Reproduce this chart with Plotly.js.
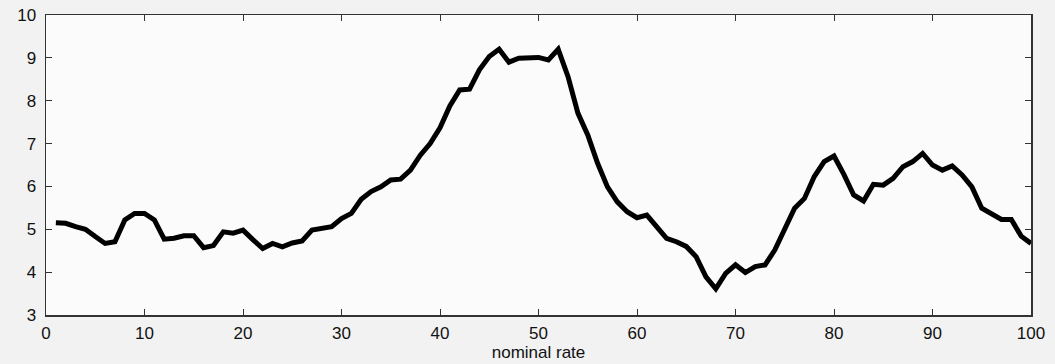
<!DOCTYPE html>
<html>
<head>
<meta charset="utf-8">
<script src="https://cdn.plot.ly/plotly-3.0.1.min.js"></script>
<style>
html,body{margin:0;padding:0;background:#f2f2f2;}
#chart{width:1055px;height:364px;}
</style>
</head>
<body>
<div id="chart"></div>
<script>
const nominalRate = [];
for (let i = 1; i <= 100; i++) nominalRate.push(i);
const values = [
  5.15, 5.14, 5.06, 5.00, 4.83, 4.67, 4.71, 5.22, 5.37, 5.37,
  5.22, 4.77, 4.79, 4.85, 4.85, 4.57, 4.62, 4.94, 4.91, 4.98,
  4.76, 4.55, 4.67, 4.59, 4.68, 4.73, 4.98, 5.02, 5.06, 5.25,
  5.37, 5.70, 5.88, 5.99, 6.15, 6.17, 6.38, 6.73, 7.00, 7.37,
  7.88, 8.25, 8.27, 8.72, 9.03, 9.20, 8.90, 8.99, 9.01, 9.01,
  8.95, 9.20, 8.56, 7.71, 7.20, 6.54, 5.99, 5.64, 5.41, 5.27,
  5.33, 5.05, 4.79, 4.71, 4.60, 4.36, 3.89, 3.61, 3.97, 4.17,
  3.99, 4.13, 4.17, 4.52, 5.02, 5.49, 5.72, 6.23, 6.58, 6.71,
  6.28, 5.80, 5.66, 6.05, 6.03, 6.19, 6.46, 6.58, 6.77, 6.50,
  6.38, 6.48, 6.27, 5.99, 5.49, 5.37, 5.23, 5.23, 4.84, 4.67
];
const xTicks = [0, 10, 20, 30, 40, 50, 60, 70, 80, 90, 100];
const yTicks = [3, 4, 5, 6, 7, 8, 9, 10];

const fontFam = 'Liberation Sans, Arial, sans-serif';
const trace = {
  x: nominalRate, y: values, type: 'scatter', mode: 'lines',
  line: {color: '#000000', width: 5}, hoverinfo: 'none'
};
const axisCommon = {
  showgrid: false, zeroline: false, showline: true, mirror: 'ticks',
  linecolor: '#333333', linewidth: 1.5,
  ticks: 'inside', ticklen: 6, tickcolor: '#333333', tickwidth: 1,
  tickfont: {family: fontFam, size: 17, color: '#111111'}
};
const layout = {
  width: 1055, height: 364,
  margin: {l: 46, r: 24, t: 15, b: 49},
  paper_bgcolor: '#f2f2f2', plot_bgcolor: '#fbfbfb',
  showlegend: false,
  xaxis: Object.assign({}, axisCommon, {
    range: [0, 100], tickvals: xTicks, ticktext: xTicks.map(String),
    ticklabelstandoff: 2,
    title: {text: 'nominal rate', standoff: 4,
      font: {family: fontFam, size: 17, color: '#111111'}}
  }),
  yaxis: Object.assign({}, axisCommon, {
    range: [3, 10], tickvals: yTicks, ticktext: yTicks.map(String),
    ticklabelstandoff: 5
  })
};
Plotly.newPlot('chart', [trace], layout, {staticPlot: true, displayModeBar: false});
</script>
</body>
</html>
